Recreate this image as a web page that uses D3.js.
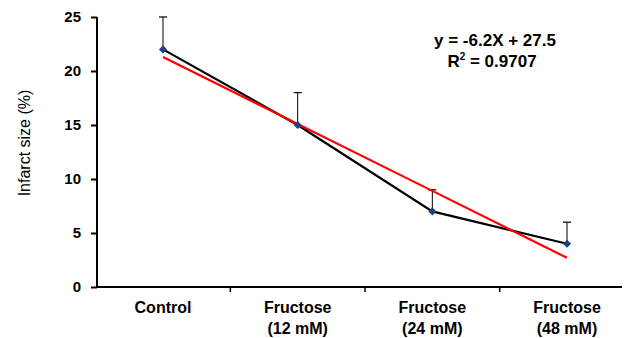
<!DOCTYPE html>
<html><head><meta charset="utf-8">
<script src="https://cdn.jsdelivr.net/npm/d3@7/dist/d3.min.js"></script>
<style>body{margin:0;background:#fff}svg{display:block}</style>
</head><body>
<svg id="c" width="629" height="338"></svg>
<script>
const categories = ["Control", "Fructose\n(12 mM)", "Fructose\n(24 mM)", "Fructose\n(48 mM)"];
const values = [22, 15, 7, 4];
const errors = [3, 3, 2, 2];
const yTicks = [0, 5, 10, 15, 20, 25];
const slope = -6.2, intercept = 27.5;
const eqText = "y = -6.2X + 27.5";
const r2Text = "0.9707";

const svg = d3.select("#c");
const font = "Liberation Sans, Arial, sans-serif";
const x = d3.scalePoint().domain(categories).range([163, 567]);
const y = d3.scaleLinear().domain([0, 25]).range([287, 17]);
const step = x.step();

// y axis
const yAxis = svg.append("g").attr("transform", "translate(97,0)")
  .call(d3.axisLeft(y).tickValues(yTicks).tickSize(6).tickPadding(10));
yAxis.select(".domain").attr("stroke-width", 2).attr("d", `M0,${y(25)}V${y(0)}`);
yAxis.selectAll(".tick line").attr("stroke-width", 2);
yAxis.selectAll(".tick text").attr("font-family", font).attr("font-weight", "bold").attr("font-size", 15).attr("fill", "#000");

// x axis
svg.append("line").attr("x1", 96).attr("x2", 622).attr("y1", y(0)).attr("y2", y(0)).attr("stroke", "#000").attr("stroke-width", 2);
categories.slice(1).forEach((c, i) => {
  const tx = x(c) - step / 2;
  svg.append("line").attr("x1", tx).attr("x2", tx).attr("y1", y(0)).attr("y2", y(0) + 5).attr("stroke", "#000").attr("stroke-width", 1.5);
});
categories.forEach(c => {
  const lines = c.split("\n");
  const t = svg.append("text").attr("x", x(c)).attr("y", 313).attr("text-anchor", "middle")
    .attr("font-family", font).attr("font-weight", "bold").attr("font-size", 16).attr("fill", "#000");
  lines.forEach((l, i) => t.append("tspan").attr("x", x(c)).attr("dy", i ? 21 : 0).text(l));
});

// y label
svg.append("text").attr("transform", "translate(30,143) rotate(-90)").attr("text-anchor", "middle")
  .attr("font-family", font).attr("font-size", 16).attr("fill", "#000").text("Infarct size (%)");

// error bars
categories.forEach((c, i) => {
  svg.append("line").attr("x1", x(c)).attr("x2", x(c)).attr("y1", y(values[i])).attr("y2", y(values[i] + errors[i])).attr("stroke", "#000").attr("stroke-width", 1);
  svg.append("line").attr("x1", x(c) - 4).attr("x2", x(c) + 4).attr("y1", y(values[i] + errors[i])).attr("y2", y(values[i] + errors[i])).attr("stroke", "#000").attr("stroke-width", 1.2);
});

// data line
svg.append("path").datum(values).attr("fill", "none").attr("stroke", "#000").attr("stroke-width", 2.2)
  .attr("d", d3.line().x((d, i) => x(categories[i])).y(d => y(d)));

// trend line
svg.append("path").datum(categories).attr("fill", "none").attr("stroke", "#ff0000").attr("stroke-width", 2.2)
  .attr("d", d3.line().x(c => x(c)).y((c, i) => y(slope * (i + 1) + intercept)));

// markers
svg.selectAll(".m").data(values).enter().append("path")
  .attr("transform", (d, i) => `translate(${x(categories[i])},${y(d)})`)
  .attr("d", d3.symbol().type(d3.symbolDiamond2).size(42)).attr("fill", "#1f3f7f");

// equation
svg.append("text").attr("x", 495).attr("y", 46).attr("text-anchor", "middle").attr("font-family", font)
  .attr("font-weight", "bold").attr("font-size", 17).attr("fill", "#000").text(eqText);
const r = svg.append("text").attr("x", 492).attr("y", 67).attr("text-anchor", "middle").attr("font-family", font)
  .attr("font-weight", "bold").attr("font-size", 17).attr("fill", "#000");
r.append("tspan").text("R");
r.append("tspan").attr("font-size", 10).attr("dy", -7).text("2");
r.append("tspan").attr("dy", 7).text(" = " + r2Text);
</script>
</body></html>
